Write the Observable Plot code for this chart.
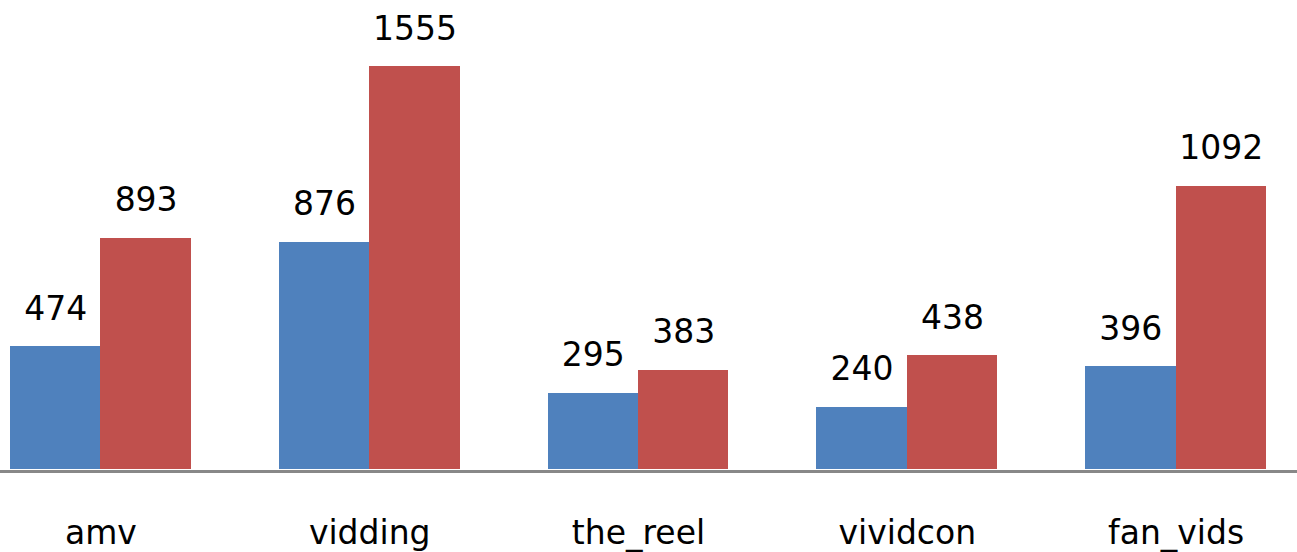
<!DOCTYPE html>
<html>
<head>
<meta charset="utf-8">
<script src="https://cdn.jsdelivr.net/npm/d3@7"></script>
<script src="https://cdn.jsdelivr.net/npm/@observablehq/plot@0.6"></script>
<style>
  html, body { margin: 0; padding: 0; background: #fff; }
</style>
</head>
<body>
<div id="chart"></div>
<script>
const categories = ["amv", "vidding", "the_reel", "vividcon", "fan_vids"];
const seriesNames = ["Series 1", "Series 2"];
const series1 = [474, 876, 295, 240, 396];
const series2 = [893, 1555, 383, 438, 1092];
const seriesColors = ["#4F81BD", "#C0504D"];

const data = [];
categories.forEach((c, i) => {
  data.push({category: c, series: seriesNames[0], value: series1[i]});
  data.push({category: c, series: seriesNames[1], value: series2[i]});
});

const chart = Plot.plot({
  width: 1297,
  height: 552,
  marginTop: 66,
  marginBottom: 83,
  marginLeft: 0,
  marginRight: 0,
  style: {fontFamily: "DejaVu Sans, Verdana, sans-serif", fontSize: "33px", color: "#000", background: "#fff"},
  fx: {domain: categories, range: [-34, 1310], paddingInner: 0.327, paddingOuter: 0.1635, round: false, label: null},
  x: {domain: seriesNames, padding: 0, round: false, axis: null},
  y: {domain: [0, d3.max(series2)], axis: null},
  color: {domain: seriesNames, range: seriesColors},
  marks: [
    Plot.barY(data, {fx: "category", x: "series", y: "value", fill: "series", shapeRendering: "crispEdges"}),
    Plot.text(data, {fx: "category", x: "series", y: "value", text: d => String(d.value), lineAnchor: "bottom", dy: -27, fill: "#000"}),
    Plot.ruleY([0], {stroke: "#888", strokeWidth: 3, dy: 1.5, insetLeft: -46, insetRight: -46, shapeRendering: "crispEdges"}),
    Plot.axisFx({anchor: "bottom", tickSize: 0, tickPadding: 51, label: null, fill: "#000"})
  ]
});
document.getElementById("chart").appendChild(chart);
</script>
</body>
</html>
